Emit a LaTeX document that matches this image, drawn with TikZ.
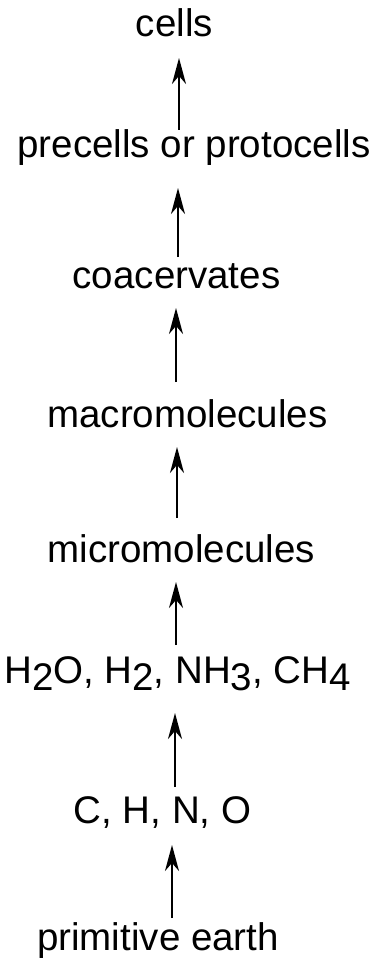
\documentclass[tikz,border=0pt]{standalone}
\usepackage{fontspec}
\setmainfont{Liberation Sans}
\usetikzlibrary{arrows.meta,calc}
\newcommand{\lowdig}[1]{\raisebox{-0.2em}{#1}}
\tikzset{
  lbl/.style={anchor=base,inner sep=0pt,font=\fontsize{38.5}{40}\selectfont},
  arr/.style={line width=1.9pt,-{Stealth[length=26pt,width=14pt,inset=8pt]}}
}
\begin{document}
\begin{tikzpicture}[x=1pt,y=-1pt]
\useasboundingbox[fill=white] (0,0) rectangle (376,960);
\node[lbl] (cells) at (174.5,37) {cells};
\node[lbl] (pre) at (194,158) {precells or protocells};
\node[lbl] (coa) at (176.5,288) {coacervates};
\node[lbl] (mac) at (187.5,427) {macromolecules};
\node[lbl] (mic) at (181.5,562) {micromolecules};
\node[lbl] (gas) at (177.5,683) {H\lowdig{2}O, H\lowdig{2}, NH\lowdig{3}, CH\lowdig{4}};
\node[lbl] (chno) at (162.5,823) {C, H, N, O};
\node[lbl] (earth) at (158,950) {primitive earth};
\coordinate (x1) at (179,0);
\coordinate (x2) at (178,0);
\coordinate (x3) at (176,0);
\coordinate (x4) at (177,0);
\coordinate (x5) at (176,0);
\coordinate (x6) at (175,0);
\coordinate (x7) at (172,0);
\draw[arr] ($(pre.base -| x1)+(0,-28)$) -- ($(cells.base -| x1)+(0,21)$);
\draw[arr] ($(coa.base -| x2)+(0,-31)$) -- ($(pre.base -| x2)+(0,30)$);
\draw[arr] ($(mac.base -| x3)+(0,-45)$) -- ($(coa.base -| x3)+(0,20)$);
\draw[arr] ($(mic.base -| x4)+(0,-44)$) -- ($(mac.base -| x4)+(0,20)$);
\draw[arr] ($(gas.base -| x5)+(0,-38)$) -- ($(mic.base -| x5)+(0,20)$);
\draw[arr] ($(chno.base -| x6)+(0,-36)$) -- ($(gas.base -| x6)+(0,30)$);
\draw[arr] ($(earth.base -| x7)+(0,-32)$) -- ($(chno.base -| x7)+(0,22)$);
\end{tikzpicture}
\end{document}
